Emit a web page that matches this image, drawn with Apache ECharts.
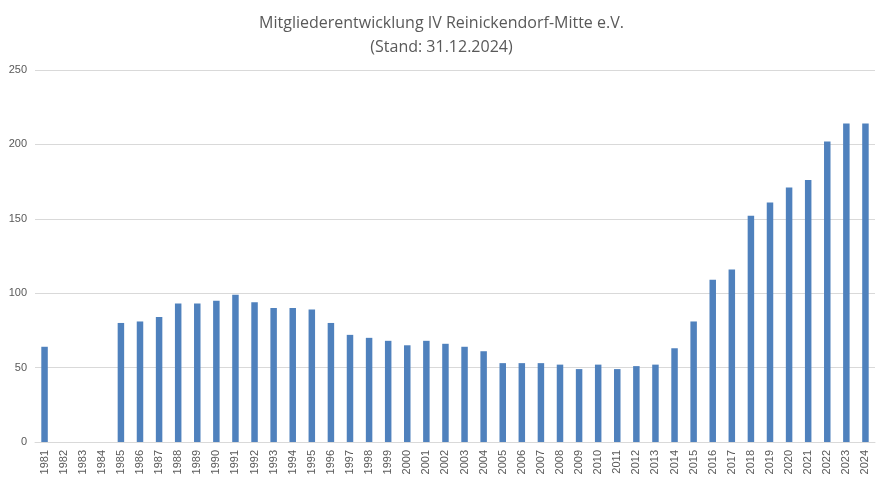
<!DOCTYPE html>
<html><head><meta charset="utf-8">
<script src="https://cdn.jsdelivr.net/npm/echarts@6/dist/echarts.min.js"></script>
<style>html,body{margin:0;padding:0;background:#fff}#c{width:883px;height:481px}</style>
</head><body><div id="c"></div>
<script>
const years = [];
for (let y = 1981; y <= 2024; y++) years.push(String(y));
const members = [64,null,null,null,80,81,84,93,93,95,99,94,90,90,89,80,72,70,68,65,68,66,64,61,53,53,53,52,49,52,49,51,52,63,81,109,116,152,161,171,176,202,214,214];
const yTicks = [0,50,100,150,200,250];
const chart = echarts.init(document.getElementById('c'));
chart.setOption({
  animation:false,
  title:{text:'Mitgliederentwicklung IV Reinickendorf-Mitte e.V.\n(Stand: 31.12.2024)',left:'center',top:6,
    textStyle:{fontFamily:'Open Sans, Liberation Sans, sans-serif',fontSize:16,fontWeight:'normal',color:'#595959',lineHeight:24}},
  grid:{left:35,right:8,top:70,bottom:39},
  xAxis:{type:'category',data:years,
    axisLine:{lineStyle:{color:'#d9d9d9'}},axisTick:{show:false},
    axisLabel:{rotate:90,interval:0,color:'#595959',fontSize:11,fontFamily:'Liberation Sans, sans-serif'}},
  yAxis:{type:'value',min:0,max:250,interval:50,
    axisLine:{show:false},axisTick:{show:false},
    splitLine:{lineStyle:{color:'#d9d9d9'}},
    axisLabel:{color:'#595959',fontSize:11,fontFamily:'Liberation Sans, sans-serif',
      formatter:v=>yTicks.includes(v)?String(v):''}},
  series:[{type:'bar',data:members,barWidth:'34%',itemStyle:{color:'#4f81bd'}}]
});
</script></body></html>
